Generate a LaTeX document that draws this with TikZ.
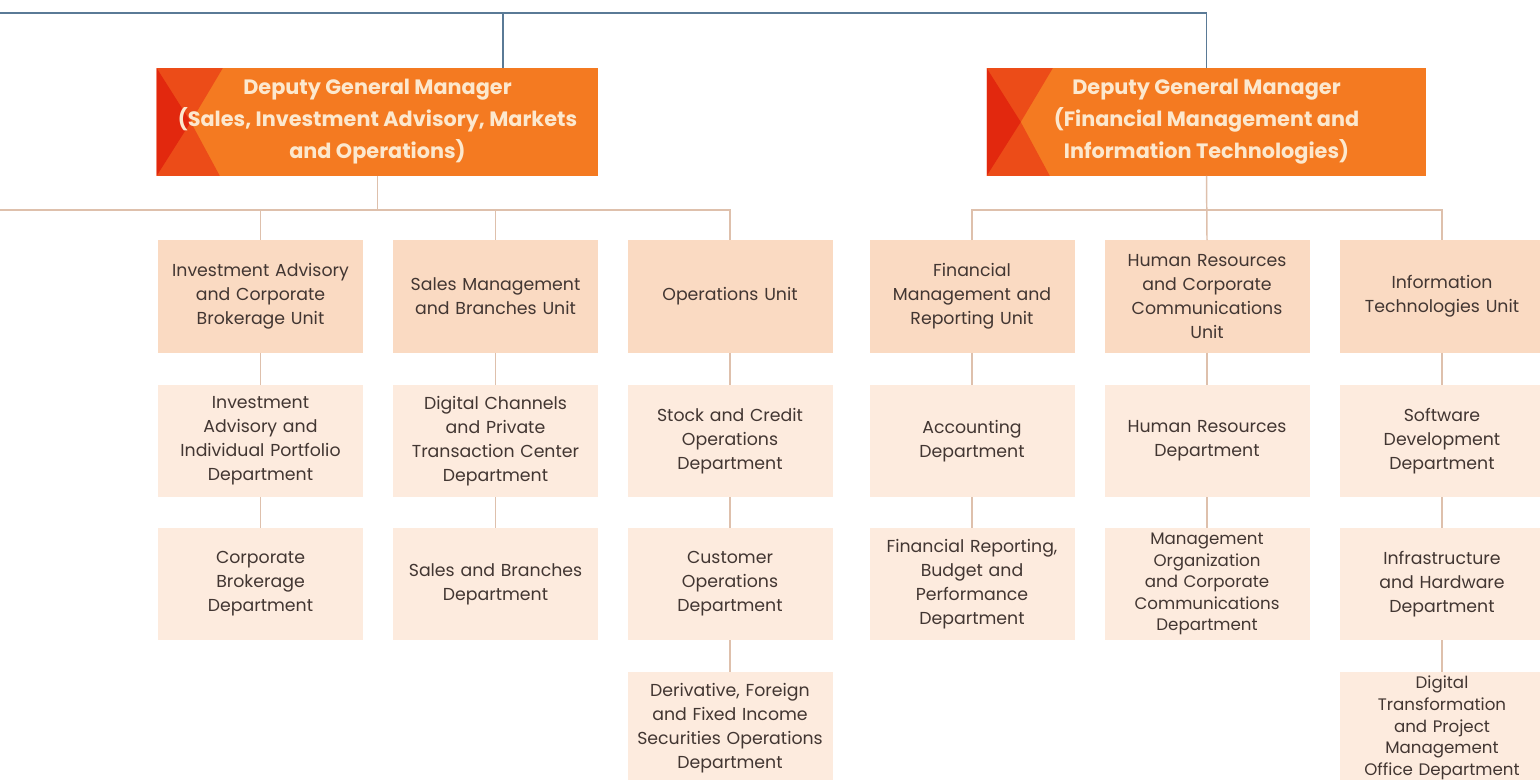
\documentclass[tikz,border=0pt]{standalone}
\usepackage{fontspec}
\setmainfont{Poppins}
\usetikzlibrary{calc,positioning,backgrounds}
\definecolor{dgmorange}{RGB}{244,122,33}
\definecolor{chevmid}{RGB}{236,76,24}
\definecolor{chevdark}{RGB}{226,40,14}
\definecolor{dgmtext}{RGB}{252,232,206}
\definecolor{unitfill}{RGB}{250,218,194}
\definecolor{deptfill}{RGB}{253,235,222}
\definecolor{conncol}{RGB}{222,192,172}
\definecolor{topblue}{RGB}{90,122,150}
\definecolor{boxtext}{RGB}{66,54,50}
\tikzset{
  unitbox/.style={fill=unitfill, minimum width=153.75pt, minimum height=84pt, text width=152pt, align=center, inner sep=0pt, text=boxtext, font=\fontsize{13}{18}\selectfont},
  deptbox/.style={unitbox, fill=deptfill},
  tightbox/.style={deptbox, font=\fontsize{12.5}{16.2}\selectfont},
  dgmbox/.style={minimum height=80.25pt, align=center, inner sep=0pt, text=dgmtext, font=\bfseries\fontsize{15.6}{24}\selectfont},
  conn/.style={draw=conncol, line width=1.1pt},
  bluewire/.style={draw=topblue, line width=1pt}
}

\begin{document}
\begin{tikzpicture}[x=0.75pt,y=0.75pt,yscale=-1,xscale=1]
\useasboundingbox (0,0) rectangle (1540,780);

%Deputy General Managers
\node[dgmbox, minimum width=330.75pt] (dgmA) at (377.5,122) {Deputy General Manager\\(Sales, Investment Advisory, Markets\\and Operations)};
\node[dgmbox, minimum width=329.25pt] (dgmB) at (1206.5,122) {Deputy General Manager\\(Financial Management and\\Information Technologies)};

%Units
\node[unitbox] (u1) at (260.5,296.5) {Investment Advisory\\and Corporate\\Brokerage Unit};
\node[unitbox] (u2) at (495.5,296.5) {Sales Management\\and Branches Unit};
\node[unitbox] (u3) at (730,296.5) {Operations Unit};
\node[unitbox] (u4) at (972,296.5) {Financial\\Management and\\Reporting Unit};
\node[unitbox] (u5) at (1207,296.5) {Human Resources\\and Corporate\\Communications\\Unit};
\node[unitbox] (u6) at (1442,296.5) {Information\\Technologies Unit};

%Departments
\node[deptbox] (d1b) at (260.5,441) {Investment\\Advisory and\\Individual Portfolio\\Department};
\node[deptbox] (d1c) at (260.5,584) {Corporate\\Brokerage\\Department};
\node[deptbox] (d2b) at (495.5,441) {Digital Channels\\and Private\\Transaction Center\\Department};
\node[deptbox] (d2c) at (495.5,584) {Sales and Branches\\Department};
\node[deptbox] (d3b) at (730,441) {Stock and Credit\\Operations\\Department};
\node[deptbox] (d3c) at (730,584) {Customer\\Operations\\Department};
\node[deptbox] (d3d) at (730,728) {Derivative, Foreign\\and Fixed Income\\Securities Operations\\Department};
\node[deptbox] (d4b) at (972,441) {Accounting\\Department};
\node[deptbox] (d4c) at (972,584) {Financial Reporting,\\Budget and\\Performance\\Department};
\node[deptbox] (d5b) at (1207,441) {Human Resources\\Department};
\node[tightbox] (d5c) at (1207,584) {Management\\Organization\\and Corporate\\Communications\\Department};
\node[deptbox] (d6b) at (1442,441) {Software\\Development\\Department};
\node[deptbox] (d6c) at (1442,584) {Infrastructure\\and Hardware\\Department};
\node[tightbox] (d6d) at (1442,728) {Digital\\Transformation\\and Project\\Management\\Office Department};

%Box fills and chevrons behind the texts
\begin{scope}[on background layer]
\foreach \g in {dgmA,dgmB}{
  \fill[dgmorange] (\g.north west) rectangle (\g.south east);
  \fill[chevmid] (\g.north west) -- ($(\g.north west)+(66,0)$) -- ($(\g.west)+(34,0)$) -- ($(\g.south west)+(63,0)$) -- (\g.south west) -- cycle;
  \fill[chevdark] (\g.north west) -- ($(\g.west)+(34,0)$) -- (\g.south west) -- cycle;
}
\end{scope}

%Straight Lines: top line
\coordinate (topleft) at (0,13);
\coordinate (dropA) at (503,13);
\draw[bluewire] (topleft) -| (dgmB.north);
\draw[bluewire] (dropA) -- (dropA |- dgmA.north);

%Straight Lines: branches
\coordinate (bus) at (0,210);
\draw[conn] (bus) -- (bus -| u3.north) -- (u3.north);
\draw[conn] (dgmA.south) -- (dgmA.south |- bus);
\draw[conn] (u1.north |- bus) -- (u1.north);
\draw[conn] (u2.north |- bus) -- (u2.north);
\draw[conn] (u4.north) -- (u4.north |- bus) -- (u6.north |- bus) -- (u6.north);
\draw[conn] (dgmB.south) -- (u5.north);

%Straight Lines: columns
\foreach \a/\b in {u1/d1b,d1b/d1c,u2/d2b,d2b/d2c,u3/d3b,d3b/d3c,d3c/d3d,u4/d4b,d4b/d4c,u5/d5b,d5b/d5c,u6/d6b,d6b/d6c,d6c/d6d}
  \draw[conn] (\a.south) -- (\b.north);
\end{tikzpicture}
\end{document}
